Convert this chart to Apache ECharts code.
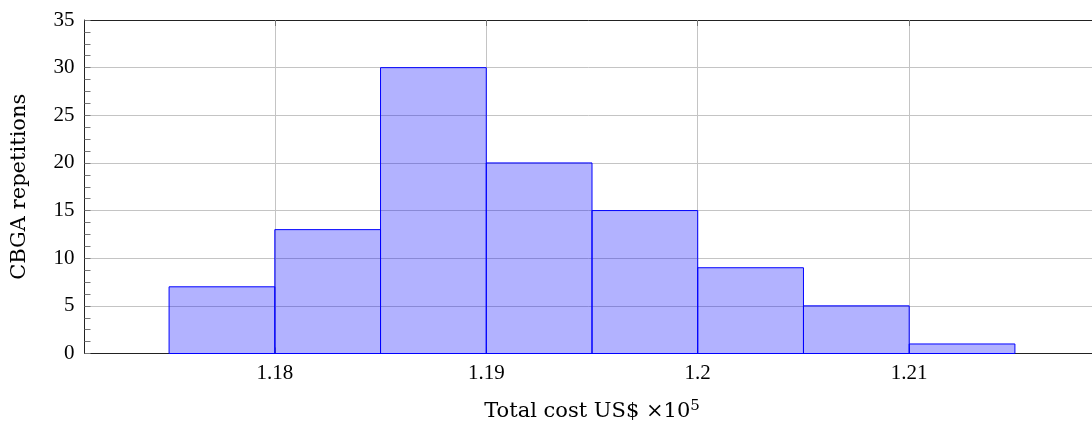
<!DOCTYPE html>
<html>
<head>
<meta charset="utf-8">
<title>CBGA histogram</title>
<script src="https://cdn.jsdelivr.net/npm/echarts@6/dist/echarts.min.js"></script>
<style>
  html, body { margin: 0; padding: 0; background: #fff; }
  #main { width: 1092px; height: 421px; }
</style>
</head>
<body>
<div id="main"></div>
<script>
// bins of total cost (x10^5 US$)
var binStart = [1.175, 1.180, 1.185, 1.190, 1.195, 1.200, 1.205, 1.210];
var binEnd   = [1.180, 1.185, 1.190, 1.195, 1.200, 1.205, 1.210, 1.215];
var counts   = [7, 13, 30, 20, 15, 9, 5, 1];
var xTicks   = [1.18, 1.19, 1.20, 1.21];

var serif = '"Liberation Serif", "DejaVu Serif", serif';
var wideSerif = '"DejaVu Serif", "Liberation Serif", serif';

var data = [];
for (var i = 0; i < counts.length; i++) {
    data.push([binStart[i], binEnd[i], counts[i]]);
}

var chart = echarts.init(document.getElementById('main'));

chart.setOption({
    animation: false,
    grid: { left: 84.5, top: 20, width: 1015, bottom: 67.5, containLabel: false, outerBoundsMode: 'none' },
    xAxis: [
        {
            type: 'value',
            min: 1.171,
            max: 1.219,
            position: 'bottom',
            name: 'Total cost US$ ×10{sup|5}',
            nameLocation: 'middle',
            nameGap: 45,
            nameTextStyle: {
                color: '#000', fontFamily: wideSerif, fontSize: 21,
                rich: { sup: { fontSize: 15, verticalAlign: 'bottom', padding: [0, 0, 11, 0], fontFamily: wideSerif, color: '#000' } }
            },
            axisLine: { show: true, lineStyle: { color: '#222', width: 1 } },
            axisTick: { show: true, inside: true, length: 6, lineStyle: { color: '#777' }, customValues: xTicks },
            axisLabel: {
                customValues: xTicks, color: '#000', fontFamily: serif, fontSize: 21, margin: 9,
                formatter: function (v) { return String(+v.toFixed(2)); }
            },
            splitLine: { show: true, lineStyle: { color: '#c4c4c4', width: 1 } }
        },
        {
            type: 'value',
            min: 1.171,
            max: 1.219,
            position: 'top',
            axisLine: { show: true, lineStyle: { color: '#222', width: 1 } },
            axisTick: { show: true, inside: true, length: 6, lineStyle: { color: '#777' }, customValues: xTicks },
            axisLabel: { show: false },
            splitLine: { show: false }
        }
    ],
    yAxis: {
        type: 'value',
        min: 0,
        max: 35,
        interval: 5,
        name: 'CBGA repetitions',
        nameLocation: 'middle',
        nameGap: 54,
        nameRotate: 90,
        nameTextStyle: { color: '#000', fontFamily: wideSerif, fontSize: 21 },
        axisLine: { show: true, lineStyle: { color: '#222', width: 1 } },
        axisTick: { show: true, inside: true, length: 6, lineStyle: { color: '#777' } },
        minorTick: { show: true, splitNumber: 4, length: 6, lineStyle: { color: '#777' } },
        axisLabel: { color: '#000', fontFamily: serif, fontSize: 21, margin: 10 },
        splitLine: { show: true, lineStyle: { color: '#c4c4c4', width: 1 } }
    },
    series: [{
        type: 'custom',
        xAxisIndex: 0,
        encode: { x: [0, 1], y: 2 },
        data: data,
        renderItem: function (params, api) {
            var p0 = api.coord([api.value(0), api.value(2)]);
            var p1 = api.coord([api.value(1), 0]);
            return {
                type: 'rect',
                shape: { x: p0[0], y: p0[1], width: p1[0] - p0[0], height: p1[1] - p0[1] },
                style: { fill: 'rgba(0,0,255,0.3)', stroke: '#0000ff', lineWidth: 1 }
            };
        }
    }]
});

window.onresize = chart.resize;
</script>
</body>
</html>
